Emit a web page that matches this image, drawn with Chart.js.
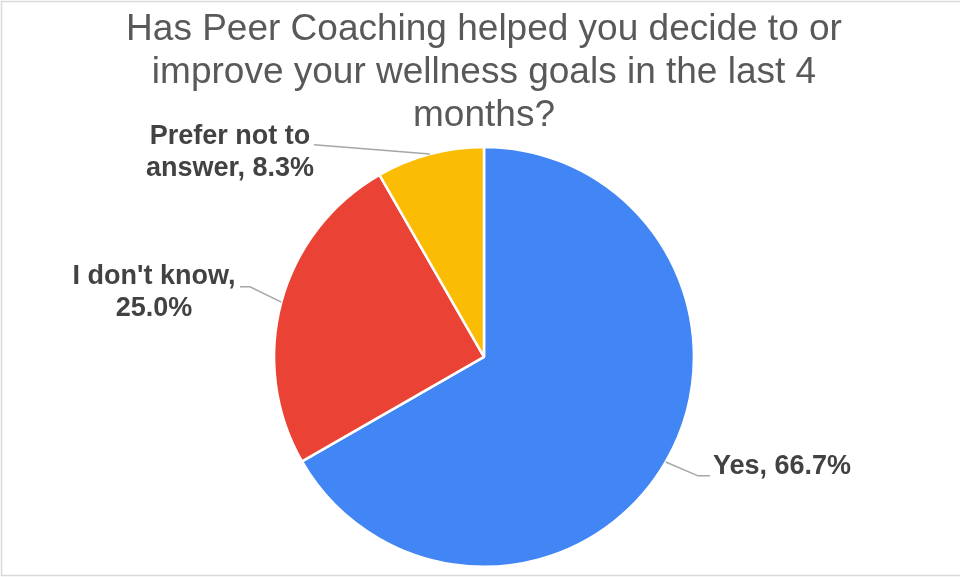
<!DOCTYPE html>
<html>
<head>
<meta charset="utf-8">
<script src="https://cdn.jsdelivr.net/npm/chart.js@4"></script>
<style>
  html, body { margin: 0; padding: 0; background: #fff; }
  #wrap { width: 960px; height: 577px; position: relative; }
</style>
</head>
<body>
<div id="wrap"><canvas id="pieChart"></canvas></div>
<script>
const titleLines = ['Has Peer Coaching helped you decide to or', 'improve your wellness goals in the last 4', 'months?'];
const categories = ['Yes', "I don't know", 'Prefer not to answer'];
const shares = [66.7, 25.0, 8.3];
const sliceColors = ['#4285F4', '#EA4335', '#FBBC04'];

// where each outside label and its leader line sit, relative to the pie centre
const labelLayout = [
  { line: [[214, 119], [226, 119]], dx: 229, dy: 110, align: 'left' },
  { line: [[-234, -70], [-244, -70]], dx: -330, dy: -80, align: 'center' },
  { line: [[-170, -212]], dx: -254, dy: -220, align: 'center' }
];

const FONT = 'Arial, "Liberation Sans", sans-serif';

function wrapText(ctx, text, maxWidth) {
  const words = text.split(' ');
  const lines = [];
  let cur = '';
  words.forEach(w => {
    const test = cur ? cur + ' ' + w : w;
    if (cur && ctx.measureText(test).width > maxWidth) {
      lines.push(cur);
      cur = w;
    } else {
      cur = test;
    }
  });
  if (cur) lines.push(cur);
  return lines;
}

const frame = {
  id: 'frame',
  beforeDraw(chart) {
    const ctx = chart.ctx;
    ctx.save();
    ctx.strokeStyle = '#d9d9d9';
    ctx.lineWidth = 1.5;
    ctx.beginPath();
    ctx.moveTo(chart.width, 1.5);
    ctx.lineTo(1.5, 1.5);
    ctx.lineTo(1.5, chart.height - 1.5);
    ctx.lineTo(chart.width, chart.height - 1.5);
    ctx.stroke();
    ctx.restore();
  }
};

const outsideLabels = {
  id: 'outsideLabels',
  afterDraw(chart) {
    const ctx = chart.ctx;
    const meta = chart.getDatasetMeta(0);
    ctx.save();
    ctx.font = 'bold 27px ' + FONT;
    meta.data.forEach((arc, i) => {
      const p = arc.getProps(['x', 'y', 'startAngle', 'endAngle', 'outerRadius'], true);
      const mid = (p.startAngle + p.endAngle) / 2;
      const L = labelLayout[i];
      ctx.strokeStyle = '#a6a6a6';
      ctx.lineWidth = 1.5;
      ctx.beginPath();
      ctx.moveTo(p.x + Math.cos(mid) * p.outerRadius, p.y + Math.sin(mid) * p.outerRadius);
      L.line.forEach(pt => ctx.lineTo(p.x + pt[0], p.y + pt[1]));
      ctx.stroke();

      const text = categories[i] + ', ' + shares[i].toFixed(1) + '%';
      const lines = wrapText(ctx, text, 180);
      ctx.fillStyle = '#424242';
      ctx.textAlign = L.align;
      ctx.textBaseline = 'middle';
      lines.forEach((ln, k) => ctx.fillText(ln, p.x + L.dx, p.y + L.dy + k * 32));
    });
    ctx.restore();
  }
};

new Chart(document.getElementById('pieChart'), {
  type: 'pie',
  data: {
    labels: categories,
    datasets: [{
      data: shares,
      backgroundColor: sliceColors,
      borderColor: '#ffffff',
      borderWidth: 2.5
    }]
  },
  options: {
    responsive: true,
    maintainAspectRatio: false,
    animation: false,
    layout: { padding: { left: 8, right: 0, bottom: 9 } },
    plugins: {
      legend: { display: false },
      tooltip: { enabled: false },
      title: {
        display: true,
        text: titleLines,
        color: '#595959',
        font: { family: FONT, size: 37, weight: 'normal', lineHeight: 1.168 },
        padding: { top: 8, bottom: 8 }
      }
    }
  },
  plugins: [frame, outsideLabels]
});
</script>
</body>
</html>
